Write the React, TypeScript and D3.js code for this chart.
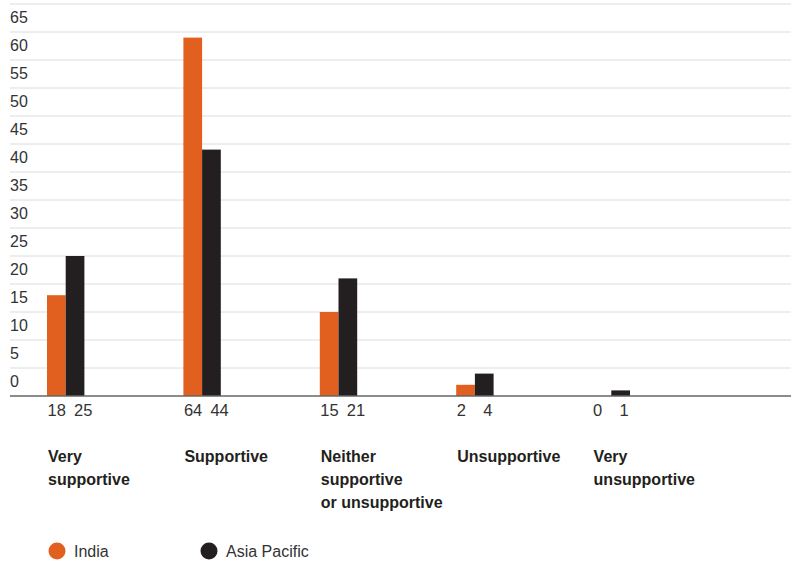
import React from "react";
import * as d3 from "d3";

const categories = [
  ["Very", "supportive"],
  ["Supportive"],
  ["Neither", "supportive", "or unsupportive"],
  ["Unsupportive"],
  ["Very", "unsupportive"],
];
const seriesNames = ["India", "Asia Pacific"];
const india = [18, 64, 15, 2, 0];
const asiaPacific = [25, 44, 21, 4, 1];
const yTicks = [0, 5, 10, 15, 20, 25, 30, 35, 40, 45, 50, 55, 60, 65];
const gridValues = [5, 10, 15, 20, 25, 30, 35, 40, 45, 50, 55, 60, 65, 70];

const colors = ["#E2601F", "#231F20"];
const FONT = "'Liberation Sans', Arial, sans-serif";

export default function App() {
  const width = 799;
  const height = 562;
  const baseY = 396;
  const left = 10;
  const right = 791;

  const y = d3.scaleLinear().domain([0, 70]).range([baseY, baseY - 70 * 5.6]);
  const keys = categories.map((c) => c.join(" "));
  const x = d3.scaleBand<string>().domain(keys).range([47, 729]).paddingInner(0).paddingOuter(0);
  const x1 = d3.scaleBand<string>().domain(seriesNames).range([0, 37.4]).padding(0);
  const series = [india, asiaPacific];
  // value labels sit left-aligned at fixed offsets within each group
  const labelOffsets = [0.5, 27];

  return (
    <svg
      width={width}
      height={height}
      style={{ position: "absolute", left: 0, top: 0, background: "#fff" }}
      fontFamily={FONT}
    >
      {gridValues.map((v) => (
        <line key={v} x1={left} x2={right} y1={y(v)} y2={y(v)} stroke="#dcdcdc" strokeWidth={1} />
      ))}
      {yTicks.map((v) => (
        <text key={v} x={left} y={y(v) - 9} fontSize={16} fill="#333">
          {v}
        </text>
      ))}
      {keys.map((k, i) => (
        <g key={k} transform={`translate(${x(k)},0)`}>
          {seriesNames.map((s, j) => {
            const v = series[j][i];
            const bx = x1(s)!;
            return (
              <g key={s}>
                <rect x={bx} y={y(v)} width={x1.bandwidth()} height={baseY - y(v)} fill={colors[j]} />
                <text x={labelOffsets[j]} y={416} fontSize={16.5} fill="#333">
                  {v}
                </text>
              </g>
            );
          })}
          {categories[i].map((line, li) => (
            <text key={li} x={1} y={462 + li * 23} fontSize={16} fontWeight="bold" fill="#231F20">
              {line}
            </text>
          ))}
        </g>
      ))}
      <line x1={left} x2={right} y1={baseY} y2={baseY} stroke="#666" strokeWidth={1.5} />
      {seriesNames.map((s, j) => {
        const cx = j === 0 ? 57 : 209;
        return (
          <g key={s}>
            <circle cx={cx} cy={551} r={8.5} fill={colors[j]} />
            <text x={cx + 17} y={557} fontSize={16} fill="#333">
              {s}
            </text>
          </g>
        );
      })}
    </svg>
  );
}
